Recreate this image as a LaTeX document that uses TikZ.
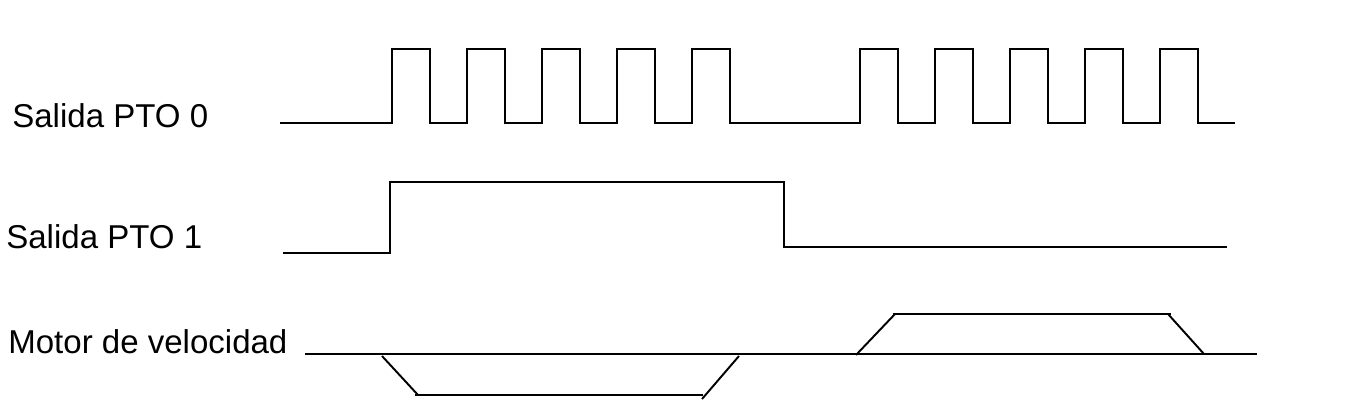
\documentclass[tikz,border=0pt]{standalone}
\usepackage{fontspec}
\setmainfont{Liberation Sans}
\usepackage{tikz}

\begin{document}
\begin{tikzpicture}[x=0.02cm,y=-0.02cm,line join=miter,
	signal/.style={line width=1.1pt},
	ramp/.style={line width=1.1pt},
	flat/.style={line width=1.7pt},
	siglabel/.style={anchor=base west,inner sep=0pt,font=\fontsize{18.8pt}{21pt}\selectfont}]
				%%%%% START %%%%%
				\def\lozero{123}
				\def\hizero{49}
				\def\wide{38}
				\def\loone{253}
				\def\hione{182}
				\def\lotwo{247}
				\def\base{354}
				\def\down{395}
				\def\up{314}
				
				\useasboundingbox (0,0) rectangle (1370,412);
				
				\node[siglabel] (lblpto0) at (12,128) {Salida PTO 0};
				\node[siglabel] (lblpto1) at (6,248) {Salida PTO 1};
				\node[siglabel] (lblmotor) at (8,353) {Motor de velocidad};
				
				% tren de pulsos
				\draw[signal] (280,\lozero) foreach \x in {392,467,542,617,692,860,935,1010,1085,1160} {
					-- (\x,\lozero) -- (\x,\hizero) -- (\x+\wide,\hizero) -- (\x+\wide,\lozero)} -- (1235,\lozero);
				
				% direccion
				\draw[signal] (283,\loone) -- (390,\loone) -- (390,\hione) -- (784,\hione) -- (784,\lotwo) -- (1227,\lotwo);
				
				% velocidad
				\draw[signal] (305,\base) -- (1257,\base);
				\draw[ramp] (382,\base+2) -- (418,\down);
				\draw[flat] (415,\down) -- (703,\down);
				\draw[ramp] (702,\down+4) -- (739,\base+2);
				\draw[ramp] (856,\base+1) -- (895,\up);
				\draw[flat] (893,\up) -- (1171,\up);
				\draw[ramp] (1168,\up) -- (1204,\base);
				%%%%% END %%%%%
\end{tikzpicture}
\end{document}
